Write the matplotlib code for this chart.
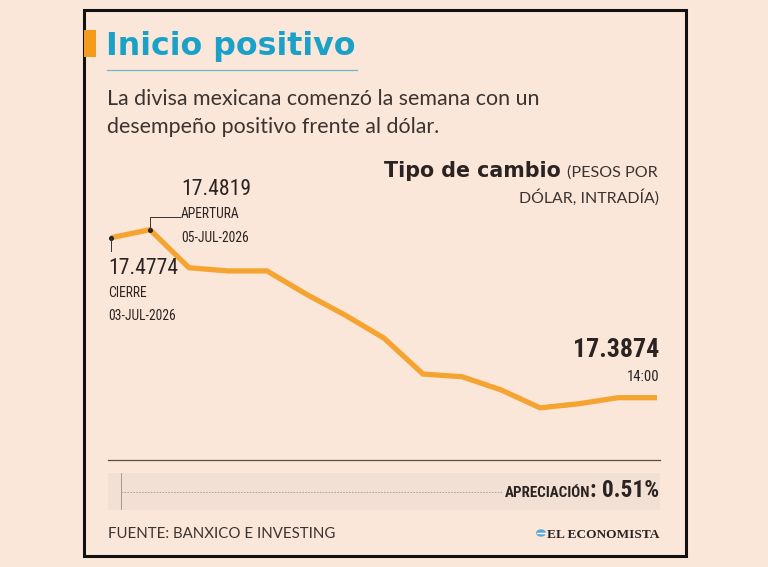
import matplotlib
matplotlib.use("Agg")
import matplotlib.pyplot as plt
from matplotlib.lines import Line2D
from matplotlib.patches import Rectangle, Circle
from matplotlib.transforms import IdentityTransform

# ---------------- data ----------------
points = ["03-JUL cierre", "05-JUL apertura", "p3", "p4", "p5", "p6", "p7", "p8",
          "p9", "p10", "p11", "p12", "p13", "p14", "14:00"]
values = [17.4774, 17.4819, 17.4605, 17.4587, 17.4587, 17.4457, 17.4339, 17.4209,
          17.4007, 17.3992, 17.3918, 17.3817, 17.3840, 17.3874, 17.3874]
title = "Inicio positivo"
subtitle = ["La divisa mexicana comenzó la semana con un",
            "desempeño positivo frente al dólar."]
close_label = ["17.4774", "CIERRE", "03-JUL-2026"]
open_label = ["17.4819", "APERTURA", "05-JUL-2026"]
last_label = ["17.3874", "14:00"]
apreciacion = "0.51%"
fuente = "FUENTE: BANXICO E INVESTING"

# ---------------- style ----------------
BG = "#fbe7d9"
DARK = "#2a2322"
SUB = "#3b3331"
BLUE = "#1ba1c8"
ORANGE = "#f6a431"
BAR = "#f39b1d"
BAND = "#f1e0d3"
RULE = "#5e4b43"

W, H = 768, 567
fig = plt.figure(figsize=(W / 100, H / 100), dpi=100)
fig.patch.set_facecolor(BG)

SANS = ["Lato", "DejaVu Sans"]
WIDE = ["DejaVu Sans"]
NARROW = ["DejaVu Sans Condensed", "Roboto Condensed", "Liberation Sans Narrow",
          "DejaVu Sans"]


def P(x, y):
    return (x / W, 1 - y / H)


def T(x, y, s, **kw):
    kw.setdefault("va", "baseline")
    kw.setdefault("color", DARK)
    return fig.text(x / W, 1 - y / H, s, **kw)


# outer frame
fig.add_artist(Rectangle(P(84, 556), 602 / W, 546 / H, transform=fig.transFigure,
                         fill=False, ec="#111111", lw=2.2))
# orange bar by title
fig.add_artist(Rectangle(P(84, 57), 12 / W, 27 / H, transform=fig.transFigure,
                         fc=BAR, ec="none"))
# title
T(106, 55, title, fontsize=22.8, fontweight="bold", color=BLUE, family=WIDE)
fig.add_artist(Line2D([107 / W, 357 / W], [1 - 70 / H] * 2, color="#6db7cb", lw=0.9))
# subtitle
T(107, 105, subtitle[0], fontsize=15.4, color=SUB, family=SANS)
T(107, 133, subtitle[1], fontsize=15.4, color=SUB, family=SANS)

# chart header
T(561, 177, "Tipo de cambio", fontsize=14.9, fontweight="bold", ha="right", family=WIDE)
T(567, 177, "(PESOS POR", fontsize=11.6, color=SUB, family=SANS)
T(659, 203, "DÓLAR, INTRADÍA)", fontsize=11.4, color=SUB, ha="right", family=SANS)

# ---------------- line chart ----------------
ax_l, ax_r, ax_t, ax_b = 100, 670, 220, 420
ax = fig.add_axes([ax_l / W, 1 - ax_b / H, (ax_r - ax_l) / W, (ax_b - ax_t) / H])
ax.set_facecolor("none")
for s in ax.spines.values():
    s.set_visible(False)
ax.set_xticks([])
ax.set_yticks([])
x = list(range(len(values)))
ax.set_xlim((ax_l - 111) / 39, (ax_r - 111) / 39)
ax.set_ylim(17.4774 - (ax_b - 237.7) * 0.0005625, 17.4774 + (237.7 - ax_t) * 0.0005625)
ax.plot(x, values, color=ORANGE, lw=3.8, solid_joinstyle="miter", solid_capstyle="butt",
        zorder=3)
ax.plot([x[0], x[1]], [values[0], values[1]], ls="none", marker="o", ms=2.6,
        color="#222222", zorder=4)

fig.canvas.draw()
x0, y0 = ax.transData.transform((x[0], values[0]))
x1, y1 = ax.transData.transform((x[1], values[1]))
fig.add_artist(Line2D([x0, x0], [y0, y0 - 13], color="#333333", lw=0.7,
                      transform=IdentityTransform()))
fig.add_artist(Line2D([x1, x1, x1 + 30], [y1, y1 + 12.5, y1 + 12.5], color="#333333",
                      lw=0.7, transform=IdentityTransform()))

# labels
T(108, 274, close_label[0], fontsize=15.6, family=NARROW)
T(108, 297, close_label[1], fontsize=9.8, family=NARROW)
T(108, 320, close_label[2], fontsize=9.8, family=NARROW)
T(181, 195, open_label[0], fontsize=15.6, family=NARROW)
T(181, 218, open_label[1], fontsize=9.8, family=NARROW)
T(181, 242, open_label[2], fontsize=9.8, family=NARROW)
T(659, 357, last_label[0], fontsize=18.6, fontweight="bold", ha="right", family=NARROW)
T(659, 381, last_label[1], fontsize=10.6, ha="right", family=NARROW)

# ---------------- bottom ----------------
fig.add_artist(Line2D([108 / W, 660 / W], [1 - 460 / H] * 2, color=RULE, lw=0.9))
fig.add_artist(Rectangle(P(108, 510), 552 / W, 37 / H, transform=fig.transFigure,
                         fc=BAND, ec="none"))
fig.add_artist(Line2D([121 / W, 121 / W], [1 - 473 / H, 1 - 509 / H], color="#9a8c84",
                      lw=0.6))
pct = T(659, 497, ": " + apreciacion, fontsize=16.8, fontweight="bold", ha="right",
        family=NARROW)
fig.canvas.draw()
r = fig.canvas.get_renderer()
pb = pct.get_window_extent(r)
lab = fig.text((pb.x0 + 0.5) / W, 1 - 497 / H, "APRECIACIÓN", fontsize=10.8,
               fontweight="bold", ha="right", va="baseline", color=DARK, family=NARROW)
fig.canvas.draw()
lb = lab.get_window_extent(r)
fig.add_artist(Line2D([121 / W, (lb.x0 - 2) / W], [1 - 492 / H] * 2, color="#a89a92",
                      lw=0.6, ls=(0, (2, 1.5))))

T(108, 538, fuente, fontsize=10.8, color=SUB, family=SANS)
T(659, 538, "EL ECONOMISTA", fontsize=9.6, fontweight="bold", ha="right",
  family=["Liberation Serif", "DejaVu Serif"])
fig.add_artist(Circle(P(541, 533), 5 / W, transform=fig.transFigure, fc="#5aa8d8",
                      ec="none"))
fig.add_artist(Line2D([537 / W, 545 / W], [1 - 533 / H] * 2, color="white", lw=1.0))

fig.savefig("out.png", dpi=100, facecolor=BG)
